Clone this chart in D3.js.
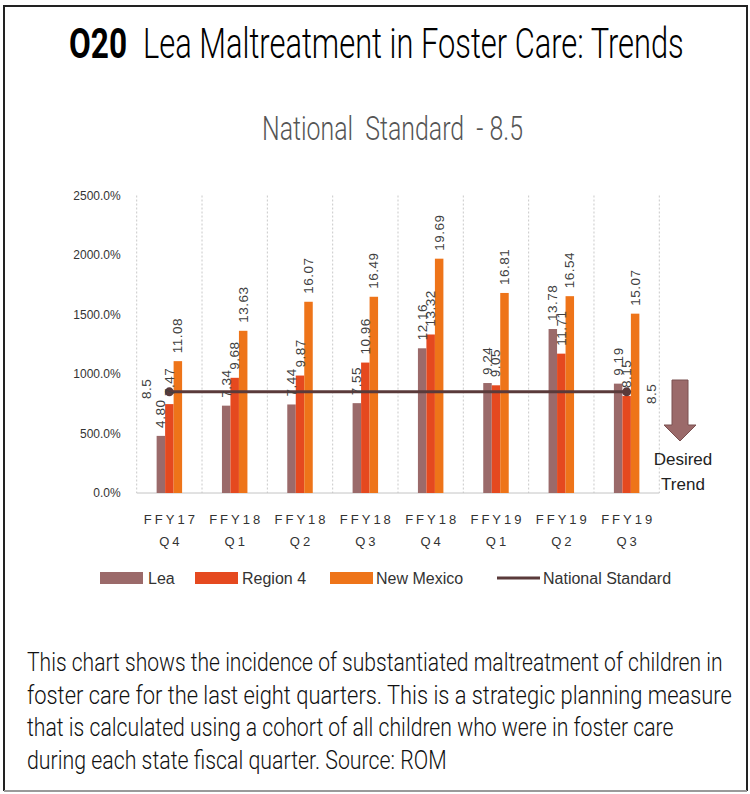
<!DOCTYPE html>
<html>
<head>
<meta charset="utf-8">
<script src="https://cdn.jsdelivr.net/npm/d3@7"></script>
<style>
  html, body { margin: 0; padding: 0; background: #fff; }
  svg { display: block; }
</style>
</head>
<body>
<svg id="chart" width="750" height="794"></svg>
<script>
// Quarterly maltreatment rates (per the chart's value labels)
const quarters = ["FFY17 Q4", "FFY18 Q1", "FFY18 Q2", "FFY18 Q3", "FFY18 Q4", "FFY19 Q1", "FFY19 Q2", "FFY19 Q3"];
const seriesNames = ["Lea", "Region 4", "New Mexico"];
const leaValues = [4.80, 7.34, 7.44, 7.55, 12.16, 9.24, 13.78, 9.19];
const region4Values = [7.47, 9.68, 9.87, 10.96, 13.32, 9.05, 11.71, 8.15];
const newMexicoValues = [11.08, 13.63, 16.07, 16.49, 19.69, 16.81, 16.54, 15.07];
const nationalStandard = 8.5;
const yTicks = [0, 5, 10, 15, 20, 25];
const seriesColors = ["#9b6a6a", "#e5491f", "#ee7419"];
const lineColor = "#5a3a3a";

const descriptionLines = [
  "This chart shows the incidence of substantiated maltreatment of children in",
  "foster care for the last eight quarters. This is a strategic planning measure",
  "that is calculated using a cohort of all children who were in foster care",
  "during each state fiscal quarter. Source: ROM"
];

const svg = d3.select("#chart");

// Horizontally squeeze a text so it spans the given width (condensed look)
function condensed(parent, str, x, y, width, attrs) {
  const t = parent.append("text").attr("x", 0).attr("y", 0).text(str);
  Object.entries(attrs).forEach(([k, v]) => t.attr(k, v));
  const natural = t.node().getComputedTextLength();
  t.attr("transform", `translate(${x},${y}) scale(${width / natural},1)`);
  return t;
}

// Frame
svg.append("path")
  .attr("d", "M4,791 L4,6 L747,6 L747,791")
  .attr("fill", "none").attr("stroke", "#222").attr("stroke-width", 2);
svg.append("line")
  .attr("x1", 4).attr("x2", 747).attr("y1", 791).attr("y2", 791)
  .attr("stroke", "#9a9a9a").attr("stroke-width", 2);

// Titles
const titleFont = "Roboto, 'Open Sans', sans-serif";
condensed(svg, "O20", 69, 58, 58,
  { "font-family": titleFont, "font-weight": 700, "font-size": 43, fill: "#000" });
condensed(svg, "Lea Maltreatment in Foster Care: Trends", 143, 58, 541,
  { "font-family": titleFont, "font-weight": 300, "font-size": 43, fill: "#000" });
condensed(svg, "National  Standard  - 8.5", 262, 140, 261,
  { "font-family": titleFont, "font-weight": 300, "font-size": 33, fill: "#555", "xml:space": "preserve" });

// Plot area
const plot = { left: 136.7, right: 659.3, top: 195.5, bottom: 493 };

const x = d3.scaleBand().domain(quarters).range([plot.left, plot.right]).padding(0);
const y = d3.scaleLinear().domain([0, 25]).range([plot.bottom, plot.top]);
const groupWidth = x.bandwidth() * 0.39;
const xSub = d3.scaleBand().domain(seriesNames).range([-groupWidth / 2, groupWidth / 2]).padding(0);

// Vertical dotted gridlines at category boundaries
const boundaries = quarters.map(q => x(q)).concat([x(quarters[quarters.length - 1]) + x.bandwidth()]);
svg.append("g").selectAll("line").data(boundaries).join("line")
  .attr("x1", d => d).attr("x2", d => d)
  .attr("y1", plot.top).attr("y2", plot.bottom)
  .attr("stroke", "#c9c9c9").attr("stroke-width", 1).attr("stroke-dasharray", "2,2");

// Y axis labels
const yAxis = d3.axisLeft(y).tickValues(yTicks).tickFormat(d3.format(".1%")).tickSize(0).tickPadding(16);
const yg = svg.append("g").attr("transform", `translate(${plot.left},0)`).call(yAxis);
yg.select(".domain").remove();
yg.selectAll("text")
  .attr("font-family", "'Liberation Sans', Arial, sans-serif")
  .attr("font-size", 12).attr("fill", "#333");

// X baseline
svg.append("line")
  .attr("x1", plot.left).attr("x2", plot.right)
  .attr("y1", plot.bottom).attr("y2", plot.bottom)
  .attr("stroke", "#c4c4c4").attr("stroke-width", 1);

// X category labels (two lines)
const xg = svg.append("g");
quarters.forEach(q => {
  const parts = q.split(" ");
  const t = xg.append("text")
    .attr("text-anchor", "middle")
    .attr("font-family", "'Liberation Sans', Arial, sans-serif")
    .attr("font-size", 13).attr("letter-spacing", 3)
    .attr("fill", "#333");
  t.append("tspan").attr("x", x(q) + x.bandwidth() / 2 + 1.5).attr("y", 524).text(parts[0]);
  t.append("tspan").attr("x", x(q) + x.bandwidth() / 2 + 1.5).attr("y", 546).text(parts[1]);
});

// Bars
const seriesValues = [leaValues, region4Values, newMexicoValues];
const barData = [];
quarters.forEach((q, i) => {
  seriesNames.forEach((s, j) => {
    barData.push({ q, s, j, v: seriesValues[j][i] });
  });
});
const barX = d => x(d.q) + x.bandwidth() / 2 + xSub(d.s);

svg.append("g").selectAll("rect").data(barData).join("rect")
  .attr("x", barX)
  .attr("y", d => y(d.v))
  .attr("width", xSub.bandwidth())
  .attr("height", d => y(0) - y(d.v))
  .attr("fill", d => seriesColors[d.j]);

// National standard line with end markers
const firstC = x(quarters[0]) + x.bandwidth() / 2;
const lastC = x(quarters[quarters.length - 1]) + x.bandwidth() / 2;
const lineData = [[firstC, nationalStandard], [lastC, nationalStandard]];
svg.append("path")
  .datum(lineData)
  .attr("d", d3.line().x(d => d[0]).y(d => y(d[1])))
  .attr("stroke", lineColor).attr("stroke-width", 3).attr("fill", "none");
svg.append("g").selectAll("circle").data(lineData).join("circle")
  .attr("cx", d => d[0]).attr("cy", d => y(d[1])).attr("r", 4.5)
  .attr("fill", lineColor);

// Bar value labels, rotated
const labelFont = "'Liberation Sans', Arial, sans-serif";
svg.append("g").selectAll("text").data(barData).join("text")
  .attr("transform", d => `translate(${barX(d) + xSub.bandwidth() / 2 + 4.5},${y(d.v) - 8}) rotate(-90)`)
  .attr("text-anchor", "start")
  .attr("font-family", labelFont).attr("font-size", 13.5).attr("letter-spacing", 0.5)
  .attr("fill", "#404040")
  .text(d => d.v.toFixed(2));

// National standard labels at both ends
const nsLabels = [
  { x: firstC - 18, y: y(nationalStandard) - 3 },
  { x: lastC + 29, y: y(nationalStandard) + 2 }
];
svg.append("g").selectAll("text").data(nsLabels).join("text")
  .attr("transform", d => `translate(${d.x},${d.y}) rotate(-90)`)
  .attr("text-anchor", "middle")
  .attr("font-family", labelFont).attr("font-size", 13.5).attr("letter-spacing", 0.5)
  .attr("fill", "#404040")
  .text(String(nationalStandard));

// Desired trend arrow
svg.append("path")
  .attr("d", "M672,380 L688,380 L688,425 L696,425 L680,441 L664,425 L672,425 Z")
  .attr("fill", "#9b6a6a").attr("stroke", "#7a5050").attr("stroke-width", 1);
const dt = svg.append("text")
  .attr("text-anchor", "middle")
  .attr("font-family", labelFont).attr("font-size", 17)
  .attr("fill", "#222");
dt.append("tspan").attr("x", 683).attr("y", 465).text("Desired");
dt.append("tspan").attr("x", 683).attr("y", 490).text("Trend");

// Legend
const legendFont = "'Liberation Sans', Arial, sans-serif";
const legendItems = [
  { name: seriesNames[0], color: seriesColors[0], sx: 100, tx: 148, type: "box" },
  { name: seriesNames[1], color: seriesColors[1], sx: 195, tx: 242, type: "box" },
  { name: seriesNames[2], color: seriesColors[2], sx: 330, tx: 376, type: "box" },
  { name: "National Standard", color: lineColor, sx: 497, tx: 543, type: "line" }
];
const lg = svg.append("g");
legendItems.forEach(it => {
  if (it.type === "box") {
    lg.append("rect").attr("x", it.sx).attr("y", 572).attr("width", 43).attr("height", 12).attr("fill", it.color);
  } else {
    lg.append("line").attr("x1", it.sx).attr("x2", it.sx + 43).attr("y1", 578).attr("y2", 578)
      .attr("stroke", it.color).attr("stroke-width", 3);
  }
  lg.append("text").attr("x", it.tx).attr("y", 584)
    .attr("font-family", legendFont).attr("font-size", 16).attr("fill", "#333")
    .text(it.name);
});

// Description paragraph
const lineWidths = [696, 705, 647, 420];
const para = svg.append("g");
descriptionLines.forEach((line, i) => {
  condensed(para, line, 27, 671 + i * 32.5, lineWidths[i],
    { "font-family": titleFont, "font-weight": 300, "font-size": 25, fill: "#111" });
});
</script>
</body>
</html>
